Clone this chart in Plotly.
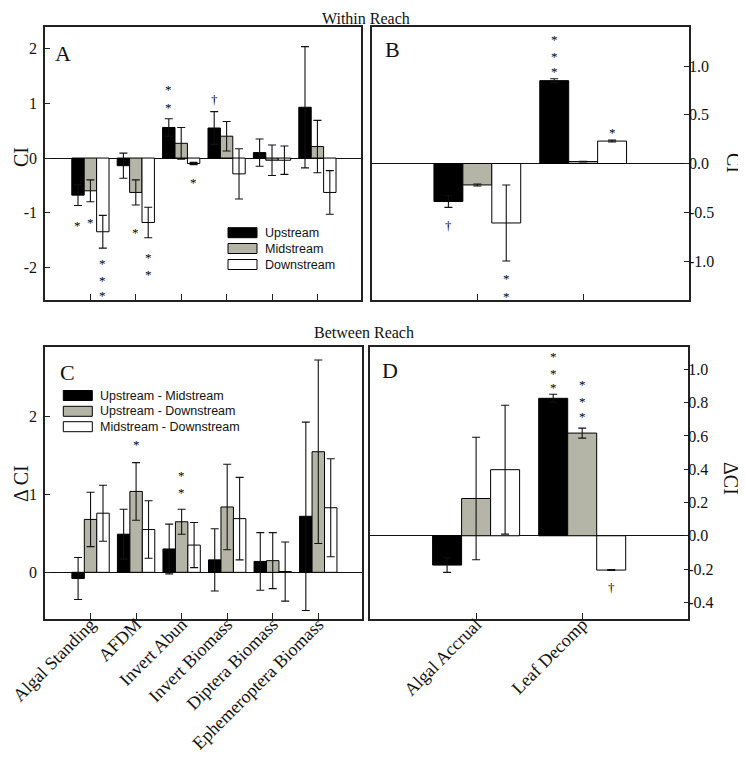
import plotly.graph_objects as go

# ---------------- data ----------------
struct_cats = ["Algal Standing", "AFDM", "Invert Abun", "Invert Biomass",
               "Diptera Biomass", "Ephemeroptera Biomass"]
func_cats = ["Algal Accrual", "Leaf Decomp"]

within_names = ["Upstream", "Midstream", "Downstream"]
between_names = ["Upstream - Midstream", "Upstream - Downstream", "Midstream - Downstream"]

# Panel A: CI within reach (structural)
a_up = [-0.68, -0.14, 0.56, 0.55, 0.10, 0.93]
a_up_err = [0.19, 0.23, 0.16, 0.30, 0.25, 1.11]
a_mid = [-0.60, -0.63, 0.27, 0.40, -0.04, 0.21]
a_mid_err = [0.20, 0.23, 0.29, 0.27, 0.28, 0.48]
a_down = [-1.35, -1.18, -0.10, -0.29, -0.04, -0.63]
a_down_err = [0.30, 0.28, 0.02, 0.46, 0.26, 0.40]

# Panel B: CI within reach (functional)
b_up = [-0.39, 0.85]
b_up_err = [0.06, 0.02]
b_mid = [-0.22, 0.02]
b_mid_err = [0.01, 0.003]
b_down = [-0.61, 0.23]
b_down_err = [0.39, 0.01]

# Panel C: delta CI between reach (structural)
c_um = [-0.08, 0.49, 0.30, 0.16, 0.14, 0.72]
c_um_err = [0.27, 0.32, 0.32, 0.40, 0.37, 1.21]
c_ud = [0.68, 1.04, 0.65, 0.84, 0.15, 1.55]
c_ud_err = [0.35, 0.37, 0.16, 0.55, 0.36, 1.18]
c_md = [0.76, 0.55, 0.35, 0.69, 0.01, 0.83]
c_md_err = [0.36, 0.37, 0.29, 0.53, 0.38, 0.63]

# Panel D: delta CI between reach (functional)
d_um = [-0.176, 0.826]
d_um_err = [0.044, 0.024]
d_ud = [0.224, 0.617]
d_ud_err = [0.368, 0.03]
d_md = [0.397, -0.206]
d_md_err = [0.387, 0.003]

# significance marks: (category index, series index, y, symbol)
sig_a = [(0, 0, -1.20, "*"), (0, 1, -1.14, "*"),
         (0, 2, -1.90, "*"), (0, 2, -2.21, "*"), (0, 2, -2.48, "*"),
         (1, 1, -1.32, "*"), (1, 2, -1.78, "*"), (1, 2, -2.09, "*"),
         (2, 0, 1.29, "*"), (2, 0, 0.97, "*"), (2, 2, -0.42, "*"),
         (3, 0, 1.11, "†")]
sig_b = [(0, 0, -0.62, "†"), (0, 2, -1.16, "*"), (0, 2, -1.34, "*"),
         (1, 0, 1.29, "*"), (1, 0, 1.12, "*"), (1, 0, 0.96, "*"),
         (1, 2, 0.34, "*")]
sig_c = [(1, 1, 1.67, "*"), (2, 1, 1.27, "*"), (2, 1, 1.05, "*")]
sig_d = [(1, 0, 1.09, "*"), (1, 0, 0.99, "*"), (1, 0, 0.90, "*"),
         (1, 1, 0.92, "*"), (1, 1, 0.82, "*"), (1, 1, 0.73, "*"),
         (1, 2, -0.30, "†")]

a_ticks = [-2, -1, 0, 1, 2]
a_ticktext = ["-2", "-1", "0", "1", "2"]
b_ticks = [-1.0, -0.5, 0.0, 0.5, 1.0]
b_ticktext = ["-1.0", "-0.5", "0.0", "0.5", "1.0"]
c_ticks = [0, 1, 2]
c_ticktext = ["0", "1", "2"]
d_ticks = [-0.4, -0.2, 0.0, 0.2, 0.4, 0.6, 0.8, 1.0]
d_ticktext = ["-0.4", "-0.2", "0.0", "0.2", "0.4", "0.6", "0.8", "1.0"]

# ---------------- styling ----------------
OFF = 8                      # page body margin of the browser
W, H = 746 - OFF, 759 - OFF  # figure size so it ends at the window edge
SERIF = "Liberation Serif, Times New Roman, serif"
SANS = "Liberation Sans, Arial, sans-serif"
FILLS = ["#000000", "#b5b5a7", "#ffffff"]
GAP = 0.18
BW = (1 - GAP) / 3


def px(x):
    return (x - OFF) / W


def py(y):
    return 1 - (y - OFF) / H


fig = go.Figure()


def add_panel(cats, series, errs, names, xa, ya):
    for i, (vals, err, name) in enumerate(zip(series, errs, names)):
        fig.add_trace(go.Bar(
            x=cats, y=vals, name=name,
            marker=dict(color=FILLS[i], line=dict(color="#000000", width=1)),
            error_y=dict(type="data", array=err, color="#111111",
                         thickness=1.1, width=4),
            xaxis=xa, yaxis=ya, showlegend=False,
        ))


add_panel(struct_cats, [a_up, a_mid, a_down], [a_up_err, a_mid_err, a_down_err],
          within_names, "x", "y")
add_panel(func_cats, [b_up, b_mid, b_down], [b_up_err, b_mid_err, b_down_err],
          within_names, "x2", "y2")
add_panel(struct_cats, [c_um, c_ud, c_md], [c_um_err, c_ud_err, c_md_err],
          between_names, "x3", "y3")
add_panel(func_cats, [d_um, d_ud, d_md], [d_um_err, d_ud_err, d_md_err],
          between_names, "x4", "y4")

annotations = []
shapes = []
for sigs, xr, yr in [(sig_a, "x", "y"), (sig_b, "x2", "y2"),
                     (sig_c, "x3", "y3"), (sig_d, "x4", "y4")]:
    for ci, si, yv, sym in sigs:
        annotations.append(dict(
            x=ci + (si - 1) * BW, y=yv, xref=xr, yref=yr, text=sym,
            showarrow=False, font=dict(family=SERIF, size=13, color="#000"),
            xanchor="center", yanchor="middle", yshift=-2))

# panel letters
for letter, x, y in [("A", 63, 53), ("B", 392, 50), ("C", 67, 372), ("D", 390, 370)]:
    annotations.append(dict(x=px(x), y=py(y), xref="paper", yref="paper", text=letter,
                            showarrow=False, font=dict(family=SERIF, size=22, color="#111"),
                            xanchor="center", yanchor="middle"))
# section titles
for t, x, y in [("Within Reach", 366, 18), ("Between Reach", 364, 332)]:
    annotations.append(dict(x=px(x), y=py(y), xref="paper", yref="paper", text=t,
                            showarrow=False, font=dict(family=SERIF, size=16, color="#111"),
                            xanchor="center", yanchor="middle"))
# axis titles
for t, x, y, ang in [("CI", 21, 157, -90), ("Δ CI", 21, 483, -90),
                     ("CI", 734, 163, 90), ("ΔCI", 731, 478, 90)]:
    annotations.append(dict(x=px(x), y=py(y), xref="paper", yref="paper", text=t,
                            textangle=ang, showarrow=False,
                            font=dict(family=SERIF, size=20, color="#111"),
                            xanchor="center", yanchor="middle"))

# legends drawn as swatches + text
for names, x0, ys in [(within_names, 228, [232.7, 248.5, 264.5]),
                      (between_names, 63.3, [395.5, 411.3, 426.7])]:
    for i, (name, yc) in enumerate(zip(names, ys)):
        shapes.append(dict(type="rect", xref="paper", yref="paper",
                           x0=px(x0), x1=px(x0 + 29), y0=py(yc + 5), y1=py(yc - 5),
                           fillcolor=FILLS[i], line=dict(color="#000", width=1)))
        annotations.append(dict(x=px(x0 + 35), y=py(yc), xref="paper", yref="paper",
                                text=name, showarrow=False, xanchor="left",
                                yanchor="middle",
                                font=dict(family=SANS, size=12.5, color="#111")))

axis_common = dict(showline=True, mirror=True, linecolor="#222", linewidth=1.5,
                   showgrid=False, ticks="inside", tickcolor="#222", tickwidth=1.3,
                   automargin=False)


def xax(dom, anchor, cats, labels):
    d = dict(axis_common)
    d.update(domain=dom, anchor=anchor, type="category", categoryarray=cats,
             range=[-1.0, len(cats) - 0.04 if len(cats) > 2 else 2.0], ticklen=6,
             zeroline=False, showticklabels=labels, tickangle=-45,
             ticklabelstandoff=-14,
             tickfont=dict(family=SERIF, size=18, color="#111"))
    return d


def yax(dom, anchor, rng, tv, tt, side="left"):
    d = dict(axis_common)
    d.update(domain=dom, anchor=anchor, range=rng, tickvals=tv, ticktext=tt,
             side=side, ticklen=5, zeroline=True, zerolinecolor="#111",
             zerolinewidth=1.2, ticklabelstandoff=3 if side == "left" else -5,
             tickfont=dict(family=SERIF, size=16, color="#111"))
    return d


xa_dom = [px(45), px(361)]
xb_dom = [px(371.5), px(689)]
xc_dom = [px(45), px(362)]
xd_dom = [px(370), px(688.3)]
ytop_dom = [py(300), py(27)]
ybot_dom = [py(619), py(346.7)]

fig.update_layout(
    width=W, height=H,
    margin=dict(l=0, r=0, t=0, b=0),
    paper_bgcolor="white", plot_bgcolor="white",
    barmode="group", bargap=GAP, bargroupgap=0,
    xaxis=xax(xa_dom, "y", struct_cats, False),
    yaxis=yax(ytop_dom, "x", [-2.6, 2.4], a_ticks, a_ticktext),
    xaxis2=xax(xb_dom, "y2", func_cats, False),
    yaxis2=yax(ytop_dom, "x2", [-1.4, 1.4], b_ticks, b_ticktext, side="right"),
    xaxis3=xax(xc_dom, "y3", struct_cats, True),
    yaxis3=yax(ybot_dom, "x3", [-0.6, 2.9], c_ticks, c_ticktext),
    xaxis4=xax(xd_dom, "y4", func_cats, True),
    yaxis4=yax(ybot_dom, "x4", [-0.5, 1.136], d_ticks, d_ticktext, side="right"),
    annotations=annotations,
    shapes=shapes,
    showlegend=False,
)

fig.write_html("out.html")
